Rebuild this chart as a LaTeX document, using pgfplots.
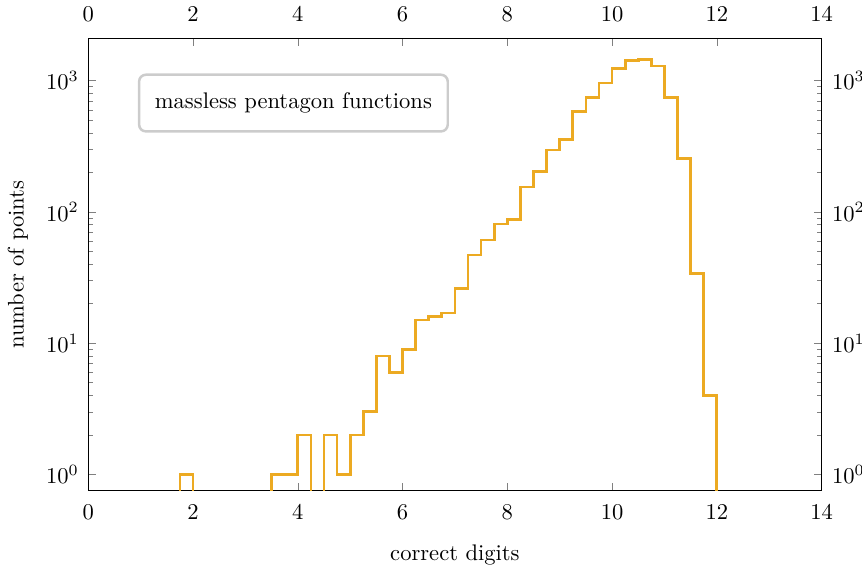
\documentclass[border=0pt]{standalone}
\usepackage{pgfplots}
\pgfplotsset{compat=1.18}
\definecolor{hist}{RGB}{236,170,34}
\pgfplotsset{/pgfplots/histax/.style={scale only axis, width=325pt, height=200.5pt,
  xmin=0, xmax=14, ymin=0.75, ymax=2100,
  xtick={0,2,4,6,8,10,12,14}, ytick={1,10,100,1000},
  tick align=inside, major tick length=3.5pt, minor tick length=2pt}}
\begin{document}
\begin{tikzpicture}
\begin{semilogyaxis}[histax, name=main, xlabel={correct digits}, ylabel={number of points},
  xlabel style={at={(axis description cs:0.5,-0.142)}, anchor=center},
  ylabel style={at={(axis description cs:-0.096,0.5)}, anchor=center},
  xticklabel style={inner sep=0pt, yshift=-6.2pt},
  yticklabel style={inner sep=0pt, xshift=-4pt}]
\addplot[const plot, color=hist, line width=1.2pt] coordinates {
(1.5,0.1)(1.75,1)(2.0,0.1)(2.25,0.1)(2.5,0.1)(2.75,0.1)(3.0,0.1)(3.25,0.1)
(3.5,1)(3.75,1)(4.0,2)(4.25,0.1)(4.5,2)(4.75,1)(5.0,2)(5.25,3)(5.5,8)(5.75,6)
(6.0,9)(6.25,15)(6.5,16)(6.75,17)(7.0,26)(7.25,47)(7.5,61)(7.75,81)(8.0,87)
(8.25,155)(8.5,204)(8.75,297)(9.0,358)(9.25,580)(9.5,742)(9.75,960)(10.0,1235)
(10.25,1420)(10.5,1450)(10.75,1295)(11.0,740)(11.25,255)(11.5,34)(11.75,4)(12.0,0.1)};
\node[draw=black!20, rounded corners=3pt, line width=1.1pt, fill=white,
  inner xsep=7pt, inner ysep=8pt] at (rel axis cs:0.2798,0.857) {massless pentagon functions};
\end{semilogyaxis}
\begin{semilogyaxis}[histax, xticklabel pos=right, yticklabel pos=right,
  xticklabel style={inner sep=0pt, yshift=7.4pt},
  yticklabel style={inner sep=0pt, xshift=4.4pt},
  axis line style={draw=none}, major tick style={draw=none}, minor tick style={draw=none}]
\end{semilogyaxis}
\pgfresetboundingbox
\path ([shift={(-39.1pt,-34.7pt)}]main.south west) rectangle ([shift={(17.9pt,17pt)}]main.north east);
\end{tikzpicture}
\end{document}
